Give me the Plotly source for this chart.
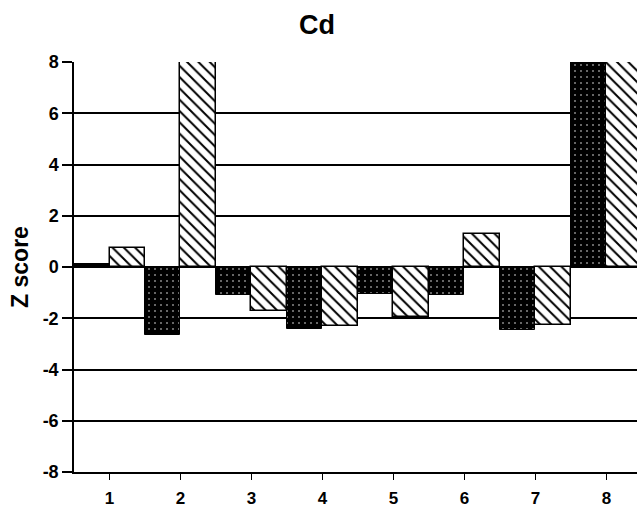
import plotly.graph_objects as go

# Z scores for Cd at each site, two sampling series
sites = [1, 2, 3, 4, 5, 6, 7, 8]
series_a = [0.1, -2.65, -1.1, -2.4, -1.05, -1.1, -2.45, 8]
series_b = [0.75, 8, -1.7, -2.3, -1.95, 1.3, -2.25, 8]
y_ticks = [-8, -6, -4, -2, 0, 2, 4, 6, 8]

FONT = "Liberation Sans, Arial, sans-serif"

fig = go.Figure()
fig.add_trace(go.Bar(
    x=sites, y=series_a, name="A",
    marker=dict(
        color="black",
        line=dict(color="black", width=1),
        pattern=dict(shape=".", fgcolor="white", bgcolor="black",
                     size=6, solidity=0.05, fillmode="replace"),
    ),
))
fig.add_trace(go.Bar(
    x=sites, y=series_b, name="B",
    marker=dict(
        color="white",
        line=dict(color="black", width=1.5),
        pattern=dict(shape="\\", fgcolor="black", bgcolor="white",
                     size=8, solidity=0.25, fillmode="replace"),
    ),
))

fig.update_layout(
    width=637, height=510,
    margin=dict(l=74, r=0, t=62, b=38),
    paper_bgcolor="white", plot_bgcolor="white",
    barmode="group", bargap=0, bargroupgap=0,
    showlegend=False,
    font=dict(family=FONT, color="black"),
    title=dict(text="<b>Cd</b>", x=317 / 637, xref="container", xanchor="center",
               y=1 - 25 / 510, yref="container", yanchor="middle",
               font=dict(size=27, family=FONT, color="black")),
)

fig.update_xaxes(
    range=[0.5, 8.43], tickvals=sites, ticktext=[f"<b>{s}</b>" for s in sites],
    ticks="outside", ticklen=6, tickcolor="black", tickwidth=1,
    ticklabelstandoff=4,
    showline=True, linecolor="black", linewidth=2,
    showgrid=False, zeroline=False,
    tickfont=dict(size=17, family=FONT, color="black"),
)
fig.update_yaxes(
    range=[-8, 8], tickvals=y_ticks, ticktext=[f"<b>{t}</b>" for t in y_ticks],
    ticks="outside", ticklen=10, tickcolor="black", tickwidth=1.5,
    showline=True, linecolor="black", linewidth=1.5,
    showgrid=True, gridcolor="black", gridwidth=1.5,
    zeroline=True, zerolinecolor="black", zerolinewidth=1.5,
    tickfont=dict(size=18, family=FONT, color="black"),
    title=dict(text="<b>Z score</b>", font=dict(size=23, family=FONT, color="black"),
               standoff=8),
)

fig.write_html("out.html")
